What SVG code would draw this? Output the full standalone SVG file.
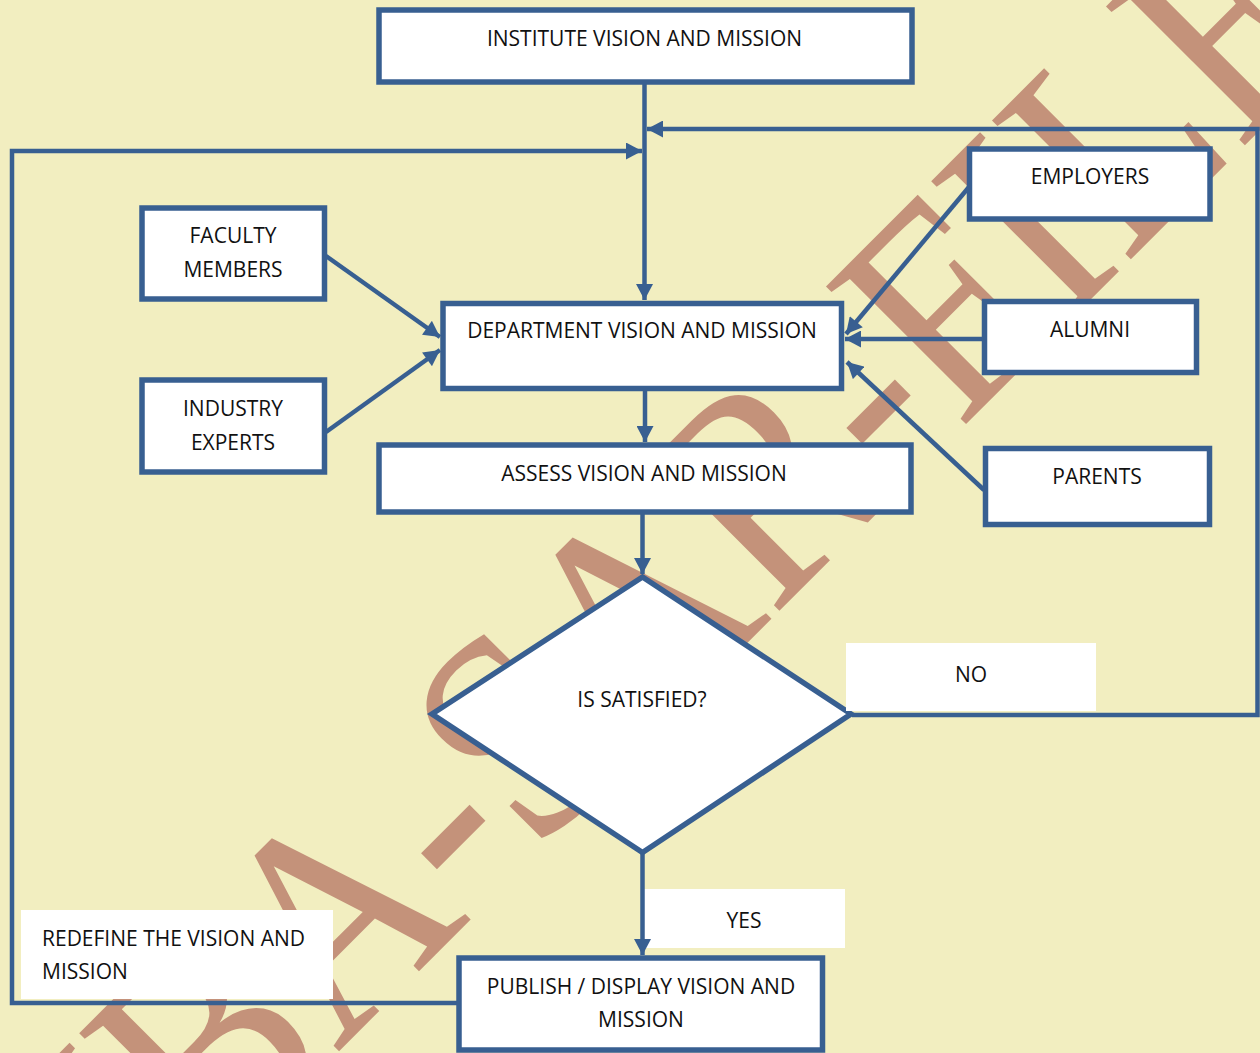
<svg xmlns="http://www.w3.org/2000/svg" width="1260" height="1053" viewBox="0 0 1260 1053">
<defs>
<style>
.box{fill:#fff;stroke:#385f91;stroke-width:5.5}
.lbl{fill:#fff}
.t{font-family:'Open Sans','Liberation Sans',sans-serif;font-size:21px;fill:#111;text-anchor:middle}
.tl{font-family:'Open Sans','Liberation Sans',sans-serif;font-size:21px;fill:#111}
.c{fill:none;stroke:#385f91;stroke-width:4.5}
.wm{font-family:'Liberation Serif','Times New Roman',serif;font-size:300px;fill:#c4927a}
</style>
<marker id="ah" markerUnits="userSpaceOnUse" markerWidth="17" markerHeight="17" viewBox="0 0 16 17" refX="16" refY="8.5" orient="auto"><path d="M0,0L16,8.5L0,17Z" fill="#385f91"/></marker>
</defs>
<rect width="1260" height="1053" fill="#f2eec0"/>
<g id="watermark"><text class="wm" transform="translate(404.6,985.6) rotate(-45) scale(0.88,1)" x="-525" y="0">NBA-SAR-FILE</text></g>
<g id="institute"><rect class="box" x="379" y="10" width="533" height="72"/><text class="t" x="644.5" y="46">INSTITUTE VISION AND MISSION</text></g>
<g id="faculty"><rect class="box" x="142" y="208" width="182.5" height="91"/><text class="t" x="233" y="243">FACULTY</text><text class="t" x="233" y="277">MEMBERS</text></g>
<g id="industry"><rect class="box" x="142" y="380" width="182.5" height="92"/><text class="t" x="233" y="416">INDUSTRY</text><text class="t" x="233" y="450">EXPERTS</text></g>
<g id="department"><rect class="box" x="443" y="303.5" width="398.5" height="85"/><text class="t" x="642" y="338">DEPARTMENT VISION AND MISSION</text></g>
<g id="employers"><rect class="box" x="969.5" y="149" width="240.5" height="70"/><text class="t" x="1090" y="184">EMPLOYERS</text></g>
<g id="alumni"><rect class="box" x="984.5" y="301.5" width="212" height="71"/><text class="t" x="1090" y="337">ALUMNI</text></g>
<g id="parents"><rect class="box" x="985.5" y="448.5" width="224" height="76"/><text class="t" x="1097" y="484">PARENTS</text></g>
<g id="assess"><rect class="box" x="379" y="445" width="532" height="67"/><text class="t" x="644" y="481">ASSESS VISION AND MISSION</text></g>
<g id="decision"><polygon class="box" points="642.5,577 851,714 642.5,852.5 432,714"/><text class="t" x="642" y="707">IS SATISFIED?</text></g>
<g id="label-no"><rect class="lbl" x="846" y="643" width="250" height="68"/><text class="t" x="971" y="682">NO</text></g>
<g id="label-yes"><rect class="lbl" x="644" y="889" width="201" height="59"/><text class="t" x="744" y="928">YES</text></g>
<g id="label-redefine"><rect class="lbl" x="21" y="910" width="312" height="89"/><text class="tl" x="42" y="946">REDEFINE THE VISION AND</text><text class="tl" x="42" y="979">MISSION</text></g>
<g id="publish"><rect class="box" x="459" y="958" width="363.5" height="92"/><text class="t" x="641" y="994">PUBLISH / DISPLAY VISION AND</text><text class="t" x="641" y="1027">MISSION</text></g>
<g id="connectors">
<path class="c" d="M644.5,84 V300" marker-end="url(#ah)"/>
<path class="c" d="M326,256 L440,337" marker-end="url(#ah)"/>
<path class="c" d="M326,432 L440,350" marker-end="url(#ah)"/>
<path class="c" d="M969,187 L846,334" marker-end="url(#ah)"/>
<path class="c" d="M984,339 H845" marker-end="url(#ah)"/>
<path class="c" d="M984,490 L847,362" marker-end="url(#ah)"/>
<path class="c" d="M645,391 V442" marker-end="url(#ah)"/>
<path class="c" d="M642.5,514 V574" marker-end="url(#ah)"/>
<path class="c" d="M642.5,853 V955" marker-end="url(#ah)"/>
<path class="c" d="M852,715 H1257.5 V129 H647" marker-end="url(#ah)"/>
<path class="c" d="M458,1003 H12 V151 H642" marker-end="url(#ah)"/>
</g>
</svg>
